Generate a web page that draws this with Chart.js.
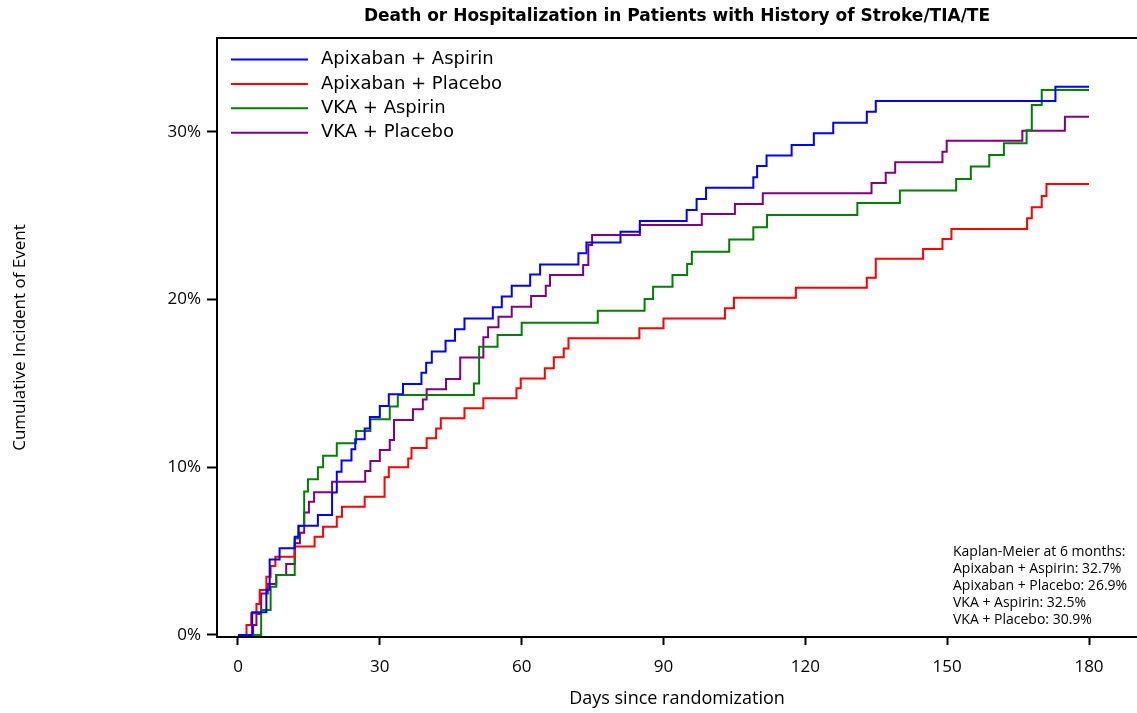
<!DOCTYPE html>
<html>
<head>
<meta charset="utf-8">
<script src="https://cdn.jsdelivr.net/npm/chart.js@4.4.0/dist/chart.umd.min.js"></script>
<style>
  html, body { margin: 0; padding: 0; background: #fff; }
  canvas { display: block; }
</style>
</head>
<body>
<canvas id="kmChart" width="1137" height="713"></canvas>
<script>
// Kaplan-Meier curves (day of event, cumulative % after the step)
const chartTitle = "Death or Hospitalization in Patients with History of Stroke/TIA/TE";
const seriesNames = ["Apixaban + Aspirin", "Apixaban + Placebo", "VKA + Aspirin", "VKA + Placebo"];
const seriesColors = ["#0000ff", "#ff0000", "#008000", "#800080"];

const apixAspDays = [0, 3.0, 6.0, 6.7, 8.8, 12.0, 12.8, 16.9, 19.9, 20.9, 21.9, 24.0, 24.8, 26.8, 27.9, 30.0, 31.9, 34.9, 38.8, 39.8, 41.0, 43.9, 45.9, 47.9, 53.9, 55.8, 57.9, 61.8, 63.9, 72.0, 73.7, 80.9, 85.0, 94.9, 97.0, 99.0, 109.0, 109.8, 111.8, 117.1, 121.8, 125.9, 133.0, 134.9, 172.9, 180];
const apixAspPct = [0, 1.35, 2.7, 4.5, 5.17, 5.86, 6.52, 7.16, 8.5, 9.74, 10.4, 11.07, 11.67, 12.32, 13.0, 13.65, 14.35, 14.97, 15.64, 16.24, 16.9, 17.55, 18.23, 18.88, 19.54, 20.18, 20.83, 21.5, 22.1, 22.76, 23.4, 24.05, 24.69, 25.34, 26.0, 26.67, 27.29, 27.97, 28.6, 29.22, 29.92, 30.55, 31.2, 31.84, 32.7, 32.7];

const apixPlaDays = [0, 1.8, 2.8, 3.9, 4.6, 6.0, 6.9, 7.9, 12.0, 16.2, 18.0, 20.9, 22.0, 26.8, 31.0, 31.9, 36.0, 36.7, 39.9, 41.9, 42.9, 47.9, 51.9, 58.9, 59.8, 64.9, 66.8, 68.9, 69.9, 84.9, 90.0, 103.0, 104.9, 118.0, 133.0, 134.9, 144.9, 149.0, 150.9, 166.9, 167.9, 170.0, 171.0, 180];
const apixPlaPct = [0, 0.6, 1.3, 1.85, 2.68, 3.48, 4.11, 4.67, 5.27, 5.86, 6.46, 7.05, 7.65, 8.25, 9.4, 10.0, 10.53, 11.15, 11.73, 12.32, 12.92, 13.52, 14.11, 14.71, 15.3, 15.9, 16.56, 17.09, 17.69, 18.29, 18.88, 19.48, 20.11, 20.71, 21.3, 22.43, 23.02, 23.61, 24.21, 24.85, 25.5, 26.18, 26.9, 26.9];

const vkaAspDays = [0, 4.9, 6.9, 8.1, 12.0, 12.8, 14.0, 14.8, 16.9, 18.0, 20.9, 25.0, 28.0, 32.1, 33.8, 49.9, 51.0, 54.9, 60.0, 76.1, 86.0, 87.8, 91.9, 95.0, 96.0, 103.9, 109.0, 111.9, 131.0, 140.0, 151.9, 155.0, 158.9, 162.0, 166.8, 167.9, 170.0, 180];
const vkaAspPct = [0, 1.49, 2.88, 3.58, 5.76, 6.5, 8.55, 9.28, 10.0, 10.69, 11.43, 12.16, 12.86, 13.62, 14.31, 15.0, 17.19, 17.89, 18.62, 19.34, 20.03, 20.77, 21.47, 22.12, 22.86, 23.59, 24.31, 25.04, 25.76, 26.5, 27.19, 27.93, 28.62, 29.32, 30.1, 31.6, 32.5, 32.5];

const vkaPlaDays = [0, 3.2, 3.9, 4.9, 6.3, 8.1, 10.2, 12.0, 13.1, 14.0, 15.0, 16.1, 19.9, 26.9, 28.0, 30.0, 32.1, 33.0, 37.0, 39.1, 39.9, 44.0, 47.0, 51.9, 52.9, 55.1, 57.9, 62.0, 65.1, 66.0, 73.0, 74.1, 74.9, 85.0, 98.1, 105.1, 111.0, 134.0, 137.0, 139.0, 149.0, 149.9, 165.9, 174.9, 180];
const vkaPlaPct = [0, 0.6, 1.25, 2.48, 3.04, 3.58, 4.23, 5.47, 6.1, 7.3, 7.95, 8.51, 9.14, 9.78, 10.38, 11.03, 11.63, 12.82, 13.46, 14.05, 14.65, 15.27, 16.54, 17.75, 18.35, 18.98, 19.58, 20.21, 20.83, 21.47, 22.06, 23.26, 23.85, 24.45, 25.1, 25.7, 26.34, 26.95, 27.57, 28.19, 28.82, 29.48, 30.07, 30.9, 30.9];

const xTicks = [0, 30, 60, 90, 120, 150, 180];
const yTicks = [0, 10, 20, 30];
const kmHeading = "Kaplan-Meier at 6 months:";
const kmValues = [32.7, 26.9, 32.5, 30.9];

const allDays = [apixAspDays, apixPlaDays, vkaAspDays, vkaPlaDays];
const allPct = [apixAspPct, apixPlaPct, vkaAspPct, vkaPlaPct];

const datasets = seriesNames.map((name, i) => ({
  label: name,
  data: allDays[i].map((d, j) => ({ x: d, y: allPct[i][j] })),
  borderColor: seriesColors[i],
  backgroundColor: seriesColors[i],
  borderWidth: 2,
  pointRadius: 0,
  stepped: true,
  fill: false
}));

// legend inside the plot, top left
const insideLegend = {
  id: "insideLegend",
  afterDatasetsDraw(chart) {
    const { ctx, chartArea } = chart;
    ctx.save();
    ctx.font = '18px "DejaVu Sans"';
    ctx.textBaseline = "middle";
    chart.data.datasets.forEach((ds, i) => {
      const y = chartArea.top + 21.5 + i * 24.4;
      ctx.strokeStyle = ds.borderColor;
      ctx.lineWidth = 2;
      ctx.beginPath();
      ctx.moveTo(chartArea.left + 14, y);
      ctx.lineTo(chartArea.left + 91, y);
      ctx.stroke();
      ctx.fillStyle = "#000";
      ctx.fillText(ds.label, chartArea.left + 104, y);
    });
    ctx.restore();
  }
};

// KM note bottom right + top frame line
const kmNote = {
  id: "kmNote",
  afterDatasetsDraw(chart) {
    const { ctx, chartArea } = chart;
    ctx.save();
    ctx.strokeStyle = "#000";
    ctx.lineWidth = 2;
    ctx.beginPath();
    ctx.moveTo(chartArea.left, chartArea.top);
    ctx.lineTo(chartArea.right, chartArea.top);
    ctx.stroke();

    const lines = [kmHeading].concat(seriesNames.map((n, i) => n + ": " + kmValues[i].toFixed(1) + "%"));
    ctx.font = '14px "Open Sans"';
    ctx.fillStyle = "#000";
    ctx.textBaseline = "middle";
    lines.forEach((t, i) => {
      ctx.fillText(t, chartArea.right - 184, chartArea.bottom - 85 + i * 17);
    });
    ctx.restore();
  }
};

const tickFont = { family: "Open Sans", size: 17 };

new Chart(document.getElementById("kmChart"), {
  type: "line",
  data: { datasets: datasets },
  plugins: [insideLegend, kmNote],
  options: {
    responsive: false,
    animation: false,
    devicePixelRatio: 1,
    layout: { padding: 0 },
    plugins: {
      legend: { display: false },
      tooltip: { enabled: false },
      title: {
        display: true,
        text: chartTitle,
        fullSize: false,
        color: "#000",
        font: { family: "DejaVu Sans", size: 17, weight: "bold", lineHeight: 1.2 },
        padding: { top: 6, bottom: 11.6 }
      }
    },
    scales: {
      x: {
        type: "linear",
        min: -4.44,
        max: 190.15,
        afterBuildTicks: (s) => { s.ticks = xTicks.map((v) => ({ value: v })); },
        afterFit: (s) => { s.height = 76; },
        grid: { drawOnChartArea: false, drawTicks: true, tickLength: 8, tickWidth: 2, tickColor: "#000" },
        border: { display: true, color: "#000", width: 2 },
        ticks: { color: "#000", font: tickFont, padding: 12, maxRotation: 0 },
        title: { display: true, text: "Days since randomization", color: "#000", font: { family: "Open Sans", size: 18 }, padding: { top: 0, bottom: 3.2 } }
      },
      y: {
        type: "linear",
        min: -0.12,
        max: 35.6,
        afterBuildTicks: (s) => { s.ticks = yTicks.map((v) => ({ value: v })); },
        afterFit: (s) => { s.width = 217; },
        grid: { drawOnChartArea: false, drawTicks: true, tickLength: 10, tickWidth: 2, tickColor: "#000" },
        border: { display: true, color: "#000", width: 2 },
        ticks: { color: "#000", font: tickFont, padding: 6, callback: (v) => v + "%" },
        title: { display: true, text: "Cumulative Incident of Event", color: "#000", font: { family: "Open Sans", size: 17 }, padding: { top: 10, bottom: 0 } }
      }
    }
  }
});
</script>
</body>
</html>
